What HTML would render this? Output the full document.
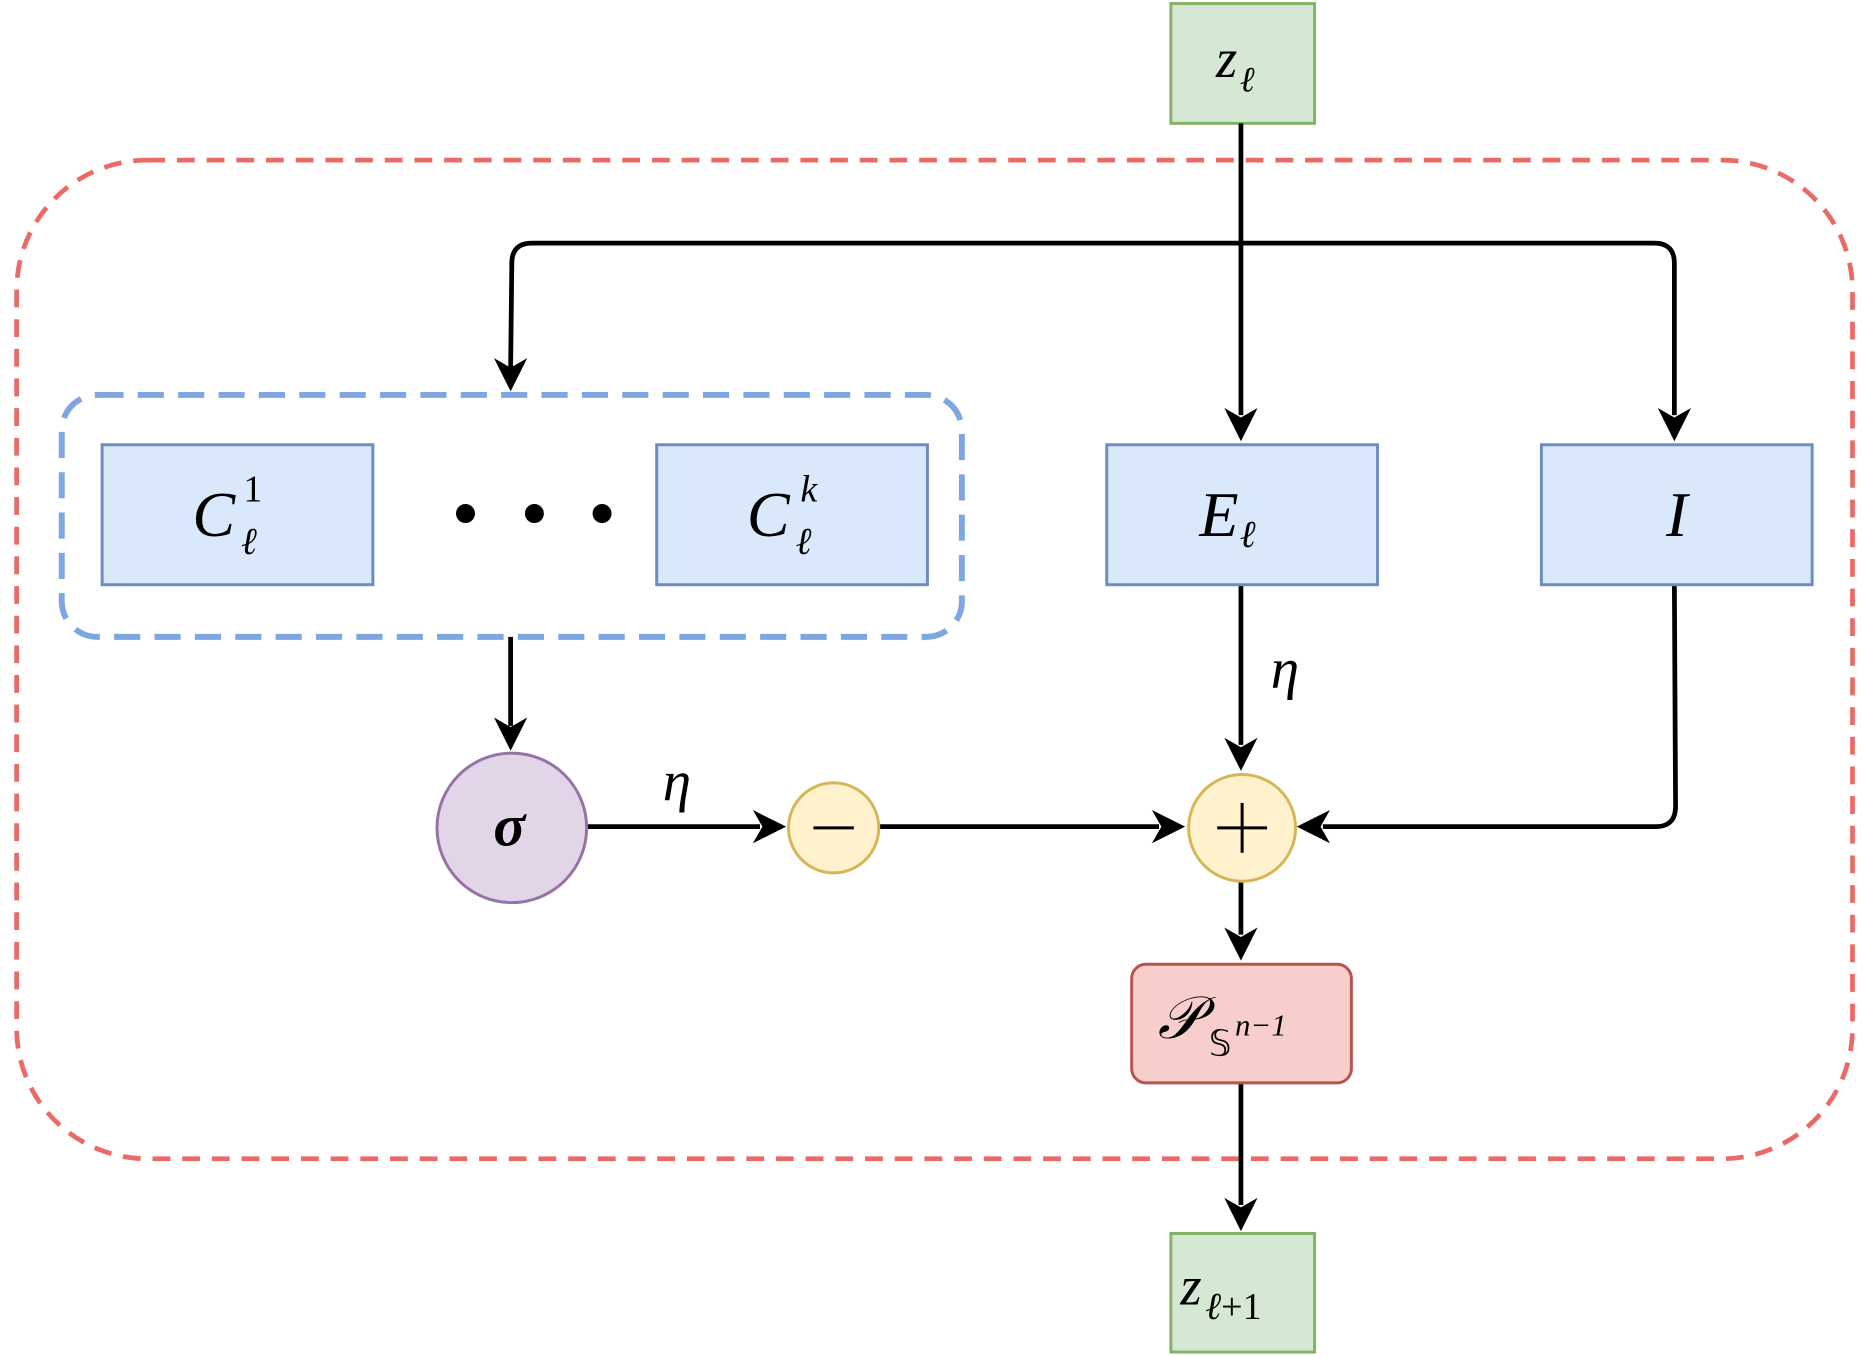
<!DOCTYPE html>
<html><head><meta charset="utf-8"><style>
html,body{margin:0;padding:0;background:#fff;}
svg{display:block}
text{font-family:"Liberation Serif",serif;}
</style></head><body>
<svg width="1862" height="1358" viewBox="0 0 1568 1145" preserveAspectRatio="none" xmlns="http://www.w3.org/2000/svg">
<rect x="14" y="135" width="1546" height="842" rx="110" fill="none" stroke="#ea6b66" stroke-width="4" stroke-dasharray="15 10"/>
<rect x="986" y="3" width="121" height="101" fill="#d5e8d4" stroke="#82b366" stroke-width="2.5"/>
<text x="1024" y="65" font-size="46" font-style="italic">z</text>
<text x="1044" y="77" font-size="30" font-style="italic">ℓ</text>
<g stroke="#000" stroke-width="4" fill="none">
<line x1="1045" y1="104" x2="1045" y2="350"/>
<path d="M430,310 L431,222 Q431,205 448,205 L1393,205 Q1410,205 1410,222 L1410,350"/>
<line x1="430" y1="537" x2="430" y2="612"/>
<line x1="494" y1="697" x2="640" y2="697"/>
<line x1="740" y1="697" x2="976" y2="697"/>
<line x1="1045" y1="493" x2="1045" y2="628"/>
<path d="M1410,493 L1411,680 Q1411,697 1394,697 L1114,697"/>
<line x1="1045" y1="743" x2="1045" y2="788"/>
<line x1="1045" y1="913" x2="1045" y2="1016"/>
</g>
<g fill="#000">
<polygon points="430,330 416,302 430,310 444,302"/>
<polygon points="1045,372 1031,344 1045,352 1059,344"/>
<polygon points="1410,372 1396,344 1410,352 1424,344"/>
<polygon points="430,633 416,605 430,613 444,605"/>
<polygon points="662,697 634,683 642,697 634,711"/>
<polygon points="998,697 970,683 978,697 970,711"/>
<polygon points="1045,650 1031,622 1045,630 1059,622"/>
<polygon points="1092,697 1120,683 1112,697 1120,711"/>
<polygon points="1045,810 1031,782 1045,790 1059,782"/>
<polygon points="1045,1038 1031,1010 1045,1018 1059,1010"/>
</g>
<rect x="52" y="333" width="758" height="204" rx="30" fill="none" stroke="#7ea6e0" stroke-width="5" stroke-dasharray="22 12"/>
<g fill="#dae8fc" stroke="#6c8ebf" stroke-width="2.5">
<rect x="86" y="375" width="228" height="118"/>
<rect x="553" y="375" width="228" height="118"/>
<rect x="932" y="375" width="228" height="118"/>
<rect x="1298" y="375" width="228" height="118"/>
</g>
<text x="162" y="452" font-size="54" font-style="italic">C</text>
<text x="205" y="423" font-size="32">1</text>
<text x="203" y="467" font-size="32" font-style="italic">ℓ</text>
<text x="629" y="452" font-size="54" font-style="italic">C</text>
<text x="674" y="423" font-size="32" font-style="italic">k</text>
<text x="670" y="467" font-size="32" font-style="italic">ℓ</text>
<text x="1010" y="452" font-size="54" font-style="italic">E</text>
<text x="1044" y="461" font-size="32" font-style="italic">ℓ</text>
<text x="1412" y="452" font-size="54" font-style="italic" text-anchor="middle">I</text>
<g fill="#000"><circle cx="392" cy="433" r="8"/><circle cx="450" cy="433" r="8"/><circle cx="507" cy="433" r="8"/></g>
<circle cx="431" cy="698" r="63" fill="#e1d5e7" stroke="#9673a6" stroke-width="2.5"/>
<text x="429" y="713" font-size="50" font-style="italic" font-weight="bold" text-anchor="middle">σ</text>
<text x="570" y="675" font-size="48" font-style="italic" text-anchor="middle">η</text>
<text x="1082" y="580" font-size="48" font-style="italic" text-anchor="middle">η</text>
<circle cx="702" cy="698" r="38" fill="#fff2cc" stroke="#d6b656" stroke-width="2.5"/>
<line x1="685" y1="698" x2="719" y2="698" stroke="#000" stroke-width="2.5"/>
<circle cx="1046" cy="698" r="45" fill="#fff2cc" stroke="#d6b656" stroke-width="2.5"/>
<line x1="1025" y1="698" x2="1067" y2="698" stroke="#000" stroke-width="2.5"/>
<line x1="1046" y1="677" x2="1046" y2="719" stroke="#000" stroke-width="2.5"/>
<rect x="953" y="813" width="185" height="100" rx="12" fill="#f8cecc" stroke="#b85450" stroke-width="2.5"/>
<text x="975" y="875" font-size="50" font-style="italic">𝒫</text>
<text x="1018" y="890" font-size="30">𝕊</text>
<text x="1040" y="873" font-size="26" font-style="italic">n−1</text>
<rect x="986" y="1040" width="121" height="100" fill="#d5e8d4" stroke="#82b366" stroke-width="2.5"/>
<text x="994" y="1100" font-size="46" font-style="italic">z</text>
<text x="1015" y="1112" font-size="32"><tspan font-style="italic">ℓ</tspan>+1</text>
</svg>
</body></html>
